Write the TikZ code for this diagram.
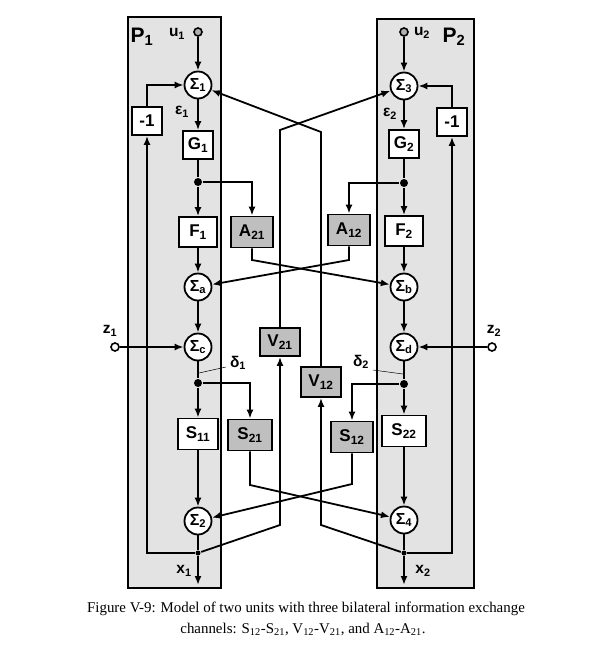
\documentclass[tikz,border=0pt]{standalone}
\usepackage{fontspec}
\setmainfont{Liberation Serif}
\newfontfamily\labfont{Liberation Sans}
\usetikzlibrary{arrows.meta}

\begin{document}
\begin{tikzpicture}[x=1pt,y=-1pt,>={Latex[length=9pt,width=7pt]},line width=1.8pt,
  box/.style={draw,fill=white,minimum width=40pt,minimum height=31pt,inner sep=0pt,
    font=\labfont\fontsize{17}{17}\selectfont\bfseries},
  smallbox/.style={box,minimum width=30pt,minimum height=28pt},
  gbox/.style={box,fill=gray!50,minimum width=42pt},
  sum/.style={draw,circle,fill=white,minimum size=27pt,inner sep=0pt,
    font=\labfont\fontsize{16}{16}\selectfont\bfseries},
  dot/.style={circle,fill,inner sep=0pt,minimum size=8pt},
  port/.style={draw,circle,fill=white,inner sep=0pt,minimum size=8pt,line width=1.6pt},
  lab/.style={font=\labfont\fontsize{15.5}{15.5}\selectfont\bfseries,inner sep=1pt}]
  \useasboundingbox (0,0) rectangle (595,653);
  % the two units
  \filldraw[fill=gray!22,line width=2pt] (128,17) rectangle (221,588);
  \filldraw[fill=gray!22,line width=2pt] (377,19) rectangle (474,588);
  \node[lab,font=\labfont\fontsize{21}{21}\selectfont\bfseries] (p1) at (142,37) {P\textsubscript{1}};
  \node[lab,font=\labfont\fontsize{21}{21}\selectfont\bfseries] (p2) at (454,37) {P\textsubscript{2}};

  % unit 1
  \node[port,fill=gray!60] (u1) at (198,32) {};
  \node[sum] (s1) at (198,85) {Σ\textsubscript{1}};
  \node[smallbox] (m1) at (147,121) {-1};
  \node[smallbox] (g1) at (198,145) {G\textsubscript{1}};
  \node[dot] (j1) at (198,182) {};
  \node[box,minimum width=38pt,minimum height=30pt] (f1) at (198,232) {F\textsubscript{1}};
  \node[sum] (sa) at (198,287) {Σ\textsubscript{a}};
  \node[sum] (sc) at (198,347) {Σ\textsubscript{c}};
  \node[port] (z1) at (115,347) {};
  \node[dot] (k1) at (198,383) {};
  \node[box] (s11) at (198,434) {S\textsubscript{11}};
  \node[sum] (s2) at (198,521) {Σ\textsubscript{2}};
  \node[dot,minimum size=5pt] (x1) at (198,553) {};
  \coordinate (o1) at (198,585);

  % unit 2
  \node[port,fill=gray!60] (u2) at (404,32) {};
  \node[sum] (s3) at (404,86) {Σ\textsubscript{3}};
  \node[smallbox] (m2) at (452,122) {-1};
  \node[smallbox] (g2) at (404,144) {G\textsubscript{2}};
  \node[dot] (j2) at (404,183) {};
  \node[box,minimum width=38pt,minimum height=30pt] (f2) at (404,231) {F\textsubscript{2}};
  \node[sum] (sb) at (404,287) {Σ\textsubscript{b}};
  \node[sum] (sd) at (404,347) {Σ\textsubscript{d}};
  \node[port] (z2) at (492,347) {};
  \node[dot] (k2) at (404,384) {};
  \node[box,minimum width=44pt] (s22) at (404,431) {S\textsubscript{22}};
  \node[sum] (s4) at (404,520) {Σ\textsubscript{4}};
  \node[dot,minimum size=5pt] (x2) at (404,553) {};
  \coordinate (o2) at (404,585);

  % exchange channels
  \node[gbox] (a21) at (252,232) {A\textsubscript{21}};
  \node[gbox] (a12) at (349,230) {A\textsubscript{12}};
  \node[gbox,minimum width=40pt,minimum height=28pt] (v21) at (280,342) {V\textsubscript{21}};
  \node[gbox,minimum width=40pt,minimum height=30pt] (v12) at (321,382) {V\textsubscript{12}};
  \node[gbox,minimum width=44pt] (s21) at (250,435) {S\textsubscript{21}};
  \node[gbox] (s12) at (352,437) {S\textsubscript{12}};

  % main paths
  \draw[->] (u1) -- (s1);
  \draw[->] (s1) -- (g1);
  \draw (g1) -- (j1);
  \draw[->] (j1) -- (f1);
  \draw[->] (f1) -- (sa);
  \draw[->] (sa) -- (sc);
  \draw[->] (z1) -- (sc);
  \draw (sc) -- (k1);
  \draw[->] (k1) -- (s11);
  \draw[->] (s11) -- (s2);
  \draw (s2) -- (x1);
  \draw[->] (x1) -- (o1);
  \draw[->] (x1) -| (m1);
  \draw[->] (m1) |- (s1);

  \draw[->] (u2) -- (s3);
  \draw[->] (s3) -- (g2);
  \draw (g2) -- (j2);
  \draw[->] (j2) -- (f2);
  \draw[->] (f2) -- (sb);
  \draw[->] (sb) -- (sd);
  \draw[->] (z2) -- (sd);
  \draw (sd) -- (k2);
  \draw[->] (k2) -- (s22);
  \draw[->] (s22) -- (s4);
  \draw (s4) -- (x2);
  \draw[->] (x2) -- (o2);
  \draw[->] (x2) -| (m2);
  \draw[->] (m2) |- (s3);

  % crossing links
  \draw[->] (j1) -| (a21);
  \draw[->] (j2) -| (a12);
  \draw[->] (k1) -| (s21);
  \draw[->] (k2) -| (s12);
  \coordinate (c1) at (321,132);
  \coordinate (c2) at (280,130);
  \coordinate (c3) at (252,260);
  \coordinate (c4) at (349,260);
  \coordinate (c5) at (250,485);
  \coordinate (c6) at (352,484);
  \coordinate (c7) at (280,525);
  \coordinate (c8) at (321,525);
  \draw[->] (v12) -- (c1) -- (s1);
  \draw[->] (v21) -- (c2) -- (s3);
  \draw[->] (a21) -- (c3) -- (sb);
  \draw[->] (a12) -- (c4) -- (sa);
  \draw[->] (s21) -- (c5) -- (s4);
  \draw[->] (s12) -- (c6) -- (s2);
  \draw[->] (x1) -- (c7) -- (v21);
  \draw[->] (x2) -- (c8) -- (v12);

  % labels
  \node[lab] (u1l) at (177,34) {u\textsubscript{1}};
  \node[lab] (u2l) at (422,33) {u\textsubscript{2}};
  \node[lab] (e1) at (182,112) {ε\textsubscript{1}};
  \node[lab] (e2) at (390,114) {ε\textsubscript{2}};
  \node[lab] (z1l) at (110,331) {z\textsubscript{1}};
  \node[lab] (z2l) at (494,331) {z\textsubscript{2}};
  \node[lab] (d1) at (238,363) {δ\textsubscript{1}};
  \node[lab] (d2) at (361,362) {δ\textsubscript{2}};
  \coordinate (d1t) at (199,373);
  \coordinate (d2t) at (403,374);
  \draw[line width=0.5pt] (226,367) -- (d1t);
  \draw[line width=0.5pt] (373,370) -- (d2t);
  \node[lab] (x1l) at (184,571) {x\textsubscript{1}};
  \node[lab] (x2l) at (423,571) {x\textsubscript{2}};

  % caption
  \node[font=\fontsize{14.9}{14.9}\selectfont] (cap1) at (306,609)
    {Figure V-9: Model of two units with three bilateral information exchange};
  \node[font=\fontsize{14.9}{14.9}\selectfont] (cap2) at (303,629)
    {channels: S\textsubscript{12}-S\textsubscript{21}, V\textsubscript{12}-V\textsubscript{21}, and A\textsubscript{12}-A\textsubscript{21}.};
\end{tikzpicture}
\end{document}
